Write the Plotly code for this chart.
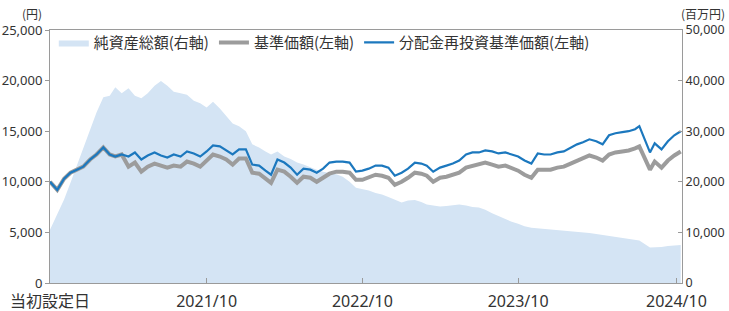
import plotly.graph_objects as go

# ---- data ----
dates = [
    "2020-09-29", "2020-10-16", "2020-11-01", "2020-11-16", "2020-12-01", "2020-12-16",
    "2021-01-01", "2021-01-16", "2021-02-01", "2021-02-16", "2021-03-01", "2021-03-16",
    "2021-04-01", "2021-04-16", "2021-05-01", "2021-05-16", "2021-06-01", "2021-06-16",
    "2021-07-01", "2021-07-16", "2021-08-01", "2021-08-16", "2021-09-01", "2021-09-16",
    "2021-10-01", "2021-10-16", "2021-11-01", "2021-11-16", "2021-12-01", "2021-12-16",
    "2022-01-01", "2022-01-16", "2022-02-01", "2022-02-16", "2022-03-01", "2022-03-16",
    "2022-04-01", "2022-04-16", "2022-05-01", "2022-05-16", "2022-06-01", "2022-06-16",
    "2022-07-01", "2022-07-16", "2022-08-01", "2022-08-16", "2022-09-01", "2022-09-16",
    "2022-10-01", "2022-10-16", "2022-11-01", "2022-11-16", "2022-12-01", "2022-12-16",
    "2023-01-01", "2023-01-16", "2023-02-01", "2023-02-16", "2023-03-01", "2023-03-16",
    "2023-04-01", "2023-04-16", "2023-05-01", "2023-05-16", "2023-06-01", "2023-06-16",
    "2023-07-01", "2023-07-16", "2023-08-01", "2023-08-16", "2023-09-01", "2023-09-16",
    "2023-10-01", "2023-10-16", "2023-11-01", "2023-11-16", "2023-12-01", "2023-12-16",
    "2024-01-01", "2024-01-16", "2024-02-01", "2024-02-16", "2024-03-01", "2024-03-16",
    "2024-04-01", "2024-04-16", "2024-05-01", "2024-05-16", "2024-06-01", "2024-06-16",
    "2024-07-01", "2024-07-11", "2024-08-05", "2024-08-16", "2024-09-01", "2024-09-16",
    "2024-10-01", "2024-10-16",
]

# 純資産総額 (百万円, right axis)
net_assets = [
    10500, 13500, 16500, 19800, 23200, 26400,
    30000, 33700, 36700, 37000, 38700, 37500,
    38500, 37000, 36500, 37500, 39000, 39900,
    39000, 37800, 37500, 37200, 36000, 35500,
    34700, 35800, 34500, 33000, 31500, 31000,
    30000, 27400, 26800, 26000, 25400, 26000,
    25000, 24500, 23800, 23400, 22800, 22400,
    22000, 21800, 21500, 21000, 20000, 18800,
    18500, 18300, 17800, 17500, 17000, 16500,
    15900, 16300, 16400, 16000, 15500, 15300,
    15100, 15200, 15300, 15500, 15300, 15000,
    14900, 14500, 13800, 13200, 12600, 12100,
    11700, 11200, 10900, 10800, 10700, 10600,
    10500, 10400, 10200, 10100, 10000, 9900,
    9700, 9500, 9300, 9100, 8900, 8700,
    8500, 8400, 7000, 7000, 7100, 7300,
    7400, 7500,
]

# 基準価額 (円, left axis)
base_price = [
    10000, 9200, 10300, 10900, 11200, 11500,
    12200, 12700, 13400, 12700, 12500, 12700,
    11500, 11900, 11000, 11500, 11800, 11600,
    11400, 11600, 11500, 12000, 11800, 11500,
    12100, 12700, 12500, 12200, 11700, 12300,
    12300, 10900, 10800, 10300, 9900, 11200,
    11000, 10500, 9900, 10500, 10400, 10000,
    10400, 10800, 11000, 11000, 10900, 10200,
    10200, 10400, 10700, 10600, 10400, 9700,
    10000, 10400, 10900, 10800, 10600, 10000,
    10400, 10500, 10700, 10900, 11400, 11600,
    11700, 11900, 11700, 11500, 11600, 11400,
    11100, 10700, 10400, 11200, 11200, 11200,
    11400, 11500, 11800, 12100, 12300, 12600,
    12400, 12100, 12700, 12900, 13000, 13100,
    13300, 13500, 11200, 12000, 11400, 12100,
    12600, 13000,
]

# 分配金再投資基準価額 (円, left axis)
reinvest_price = [
    10000, 9200, 10300, 10900, 11200, 11500,
    12200, 12700, 13400, 12700, 12500, 12700,
    12500, 12900, 12200, 12600, 12900, 12600,
    12400, 12700, 12500, 13000, 12800, 12500,
    13000, 13600, 13500, 13100, 12700, 13200,
    13200, 11700, 11600, 11100, 10700, 12200,
    11900, 11400, 10700, 11300, 11200, 10900,
    11300, 11900, 12000, 12000, 11900, 11000,
    11100, 11300, 11600, 11600, 11400, 10600,
    10900, 11300, 11900, 11800, 11600, 11000,
    11400, 11600, 11800, 12100, 12700, 12900,
    12900, 13100, 13000, 12800, 12900, 12700,
    12500, 12100, 11800, 12800, 12700, 12700,
    12900, 13000, 13400, 13700, 13900, 14200,
    14000, 13700, 14600, 14800, 14900, 15000,
    15200, 15500, 12900, 13800, 13200, 14000,
    14600, 15000,
]

left_ticks = [0, 5000, 10000, 15000, 20000, 25000]
right_ticks = [0, 10000, 20000, 30000, 40000, 50000]
x_tick_dates = ["2020-09-29", "2021-10-01", "2022-10-01", "2023-10-01", "2024-10-06"]
x_tick_labels = ["当初設定日", "2021/10", "2022/10", "2023/10", "2024/10"]

names = ["純資産総額(右軸)", "基準価額(左軸)", "分配金再投資基準価額(左軸)"]

AREA = "#d4e4f4"
GRAY = "#9c9c9c"
BLUE = "#1c78be"
AXIS = "#9a9a9a"
TXT = "#333333"
FONT = "Noto Sans, Noto Sans CJK JP, sans-serif"

fig = go.Figure()
fig.add_trace(go.Scatter(
    x=dates, y=net_assets, name=names[0], mode="lines",
    fill="tozeroy", fillcolor=AREA, line=dict(width=0, color=AREA),
    yaxis="y",
))
fig.add_trace(go.Scatter(
    x=dates, y=base_price, name=names[1], mode="lines",
    line=dict(color=GRAY, width=4), yaxis="y2",
))
fig.add_trace(go.Scatter(
    x=dates, y=reinvest_price, name=names[2], mode="lines",
    line=dict(color=BLUE, width=2.2), yaxis="y2",
))

fig.update_layout(
    width=729, height=311,
    margin=dict(l=50, r=47, t=30, b=28, autoexpand=False),
    paper_bgcolor="white", plot_bgcolor="white",
    font=dict(family=FONT, color=TXT, size=13),
    showlegend=True,
    legend=dict(
        orientation="h", x=0.006, y=1.015, xanchor="left", yanchor="top",
        bgcolor="rgba(0,0,0,0)", font=dict(family="Noto Sans CJK JP", size=15, color=TXT),
        itemwidth=30, tracegroupgap=0,
    ),
    xaxis=dict(
        type="date", range=["2020-09-29", "2024-10-19"], automargin=False,
        tickvals=x_tick_dates, ticktext=x_tick_labels,
        ticks="inside", ticklen=5, tickcolor=AXIS, ticklabelstandoff=4,
        showline=True, linecolor=AXIS, linewidth=1, mirror=True,
        showgrid=False, zeroline=False,
        tickfont=dict(family=FONT, size=16, color=TXT),
    ),
    yaxis=dict(
        side="right", range=[0, 50000], tickvals=right_ticks, tickformat=",",
        automargin=False,
        ticks="inside", ticklen=4, tickcolor=AXIS,
        showline=True, linecolor=AXIS, linewidth=1,
        showgrid=False, zeroline=False,
        tickfont=dict(family=FONT, size=12.5, color=TXT),
    ),
    yaxis2=dict(
        overlaying="y", side="left", range=[0, 25000], tickvals=left_ticks, tickformat=",",
        automargin=False,
        ticks="outside", ticklen=4, tickcolor=AXIS,
        showline=True, linecolor=AXIS, linewidth=1,
        showgrid=False, zeroline=False,
        tickfont=dict(family=FONT, size=13, color=TXT),
    ),
    annotations=[
        dict(text="(円)", xref="paper", yref="paper", x=-0.028, y=1.066,
             xanchor="center", yanchor="middle", showarrow=False,
             font=dict(family="Noto Sans CJK JP", size=12, color=TXT)),
        dict(text="(百万円)", xref="paper", yref="paper", x=1.071, y=1.066,
             xanchor="right", yanchor="middle", showarrow=False,
             font=dict(family="Noto Sans CJK JP", size=12, color=TXT)),
    ],
)

# remove the browser's default 8px page margin so the figure fills the window
fig.write_html("out.html", config={"displayModeBar": False},
               post_script="document.body.style.margin='0';")
